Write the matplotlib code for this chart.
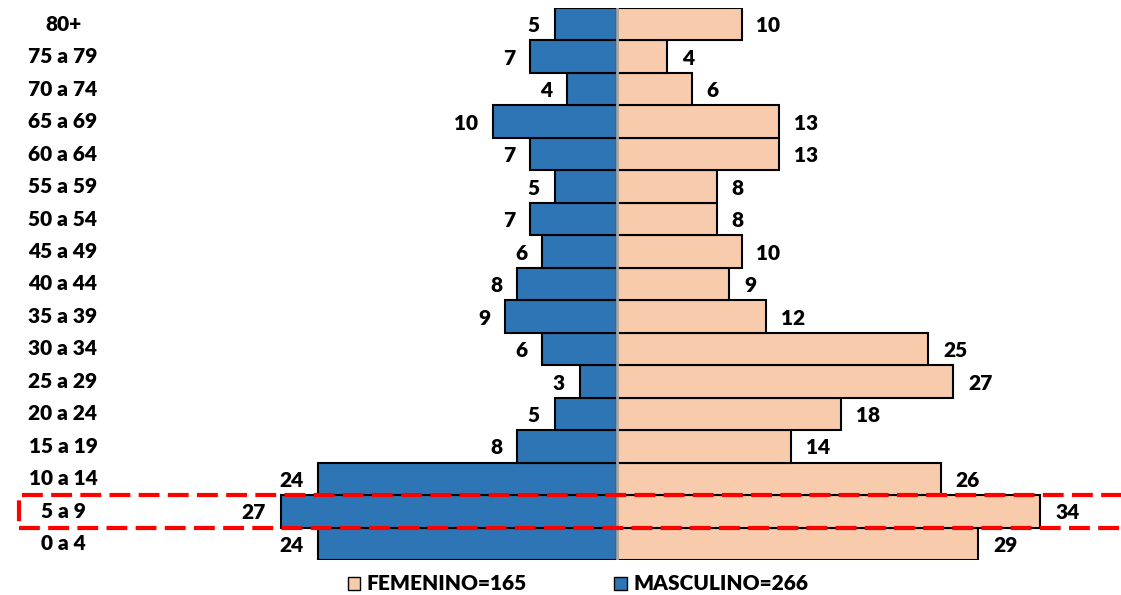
import matplotlib.pyplot as plt
import matplotlib.transforms as mtransforms
from matplotlib.patches import Rectangle, Patch

# grupos de edad, de abajo hacia arriba
grupos = ['0 a 4', '5 a 9', '10 a 14', '15 a 19', '20 a 24', '25 a 29', '30 a 34',
          '35 a 39', '40 a 44', '45 a 49', '50 a 54', '55 a 59', '60 a 64',
          '65 a 69', '70 a 74', '75 a 79', '80+']
masculino = [24, 27, 24, 8, 5, 3, 6, 9, 8, 6, 7, 5, 7, 10, 4, 7, 5]
femenino = [29, 34, 26, 14, 18, 27, 25, 12, 9, 10, 8, 8, 13, 13, 6, 4, 10]
leyenda = ['FEMENINO=165', 'MASCULINO=266']

azul = '#2e75b6'
durazno = '#f8cbad'
peso = 'heavy'

plt.rcParams['font.family'] = ['Lato', 'DejaVu Sans']

W, H = 1121, 595
fig = plt.figure(figsize=(W / 100, H / 100), dpi=100)
# eje: 0 en px 617, 12.45 px por unidad
x0, ppu = 617, 12.45
axl, axr = 130, 1100
ax = fig.add_axes([axl / W, 35 / H, (axr - axl) / W, 552 / H])
ax.set_xlim(-(x0 - axl) / ppu, (axr - x0) / ppu)
ax.set_ylim(-0.5, len(grupos) - 0.5)
ax.axis('off')

y = range(len(grupos))
ax.barh(y, [-m for m in masculino], height=1.0, color=azul, edgecolor='black', linewidth=1.5)
ax.barh(y, femenino, height=1.0, color=durazno, edgecolor='black', linewidth=1.5)
ax.axvline(0, color='#a6a6a6', lw=2, zorder=5)

for i in y:
    ax.text(-masculino[i] - 1.2, i - 0.05, str(masculino[i]), ha='right', va='center',
            fontsize=15, fontweight=peso)
    ax.text(femenino[i] + 1.2, i - 0.05, str(femenino[i]), ha='left', va='center',
            fontsize=15, fontweight=peso)

tr = mtransforms.blended_transform_factory(fig.transFigure, ax.transData)
for i, g in enumerate(grupos):
    ax.text(63 / W, i, g, transform=tr, ha='center', va='center',
            fontsize=15, fontweight=peso, clip_on=False)

# recuadro rojo sobre 5 a 9
rect = Rectangle((19 / W, 0.5), 1.2, 1.0, transform=tr, fill=False,
                 edgecolor='#ff0000', lw=3, linestyle=(0, (5, 2)),
                 clip_on=False, zorder=10)
ax.add_patch(rect)

handles = [Patch(facecolor=durazno, edgecolor='black'),
           Patch(facecolor=azul, edgecolor='black')]
fig.legend(handles, leyenda, loc='center', bbox_to_anchor=(578 / W, 1 - 584 / H),
           ncol=2, frameon=False, prop={'size': 15, 'weight': peso},
           handlelength=0.6, handleheight=0.6, handletextpad=0.3, columnspacing=4.2)

fig.savefig('out.png', dpi=100)
